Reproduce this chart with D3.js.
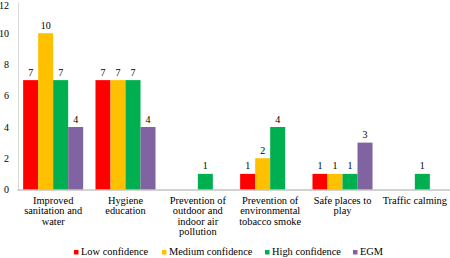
<!DOCTYPE html>
<html>
<head>
<meta charset="utf-8">
<script src="https://cdn.jsdelivr.net/npm/d3@7"></script>
</head>
<body style="margin:0;background:#fff">
<svg id="chart" width="450" height="258" font-family="Liberation Serif"></svg>
<script>
// categories (multi-line labels)
const CATEGORIES = [
  ['Improved', 'sanitation and', 'water'],
  ['Hygiene', 'education'],
  ['Prevention of', 'outdoor and', 'indoor air', 'pollution'],
  ['Prevention of', 'environmental', 'tobacco smoke'],
  ['Safe places to', 'play'],
  ['Traffic calming']
];
const SERIES = ['Low confidence', 'Medium confidence', 'High confidence', 'EGM'];
const COLORS = ['#FF0000', '#FFC000', '#00B050', '#8064A2'];
// null = no bar
const LOW = [7, 7, null, 1, 1, null];
const MEDIUM = [10, 7, null, 2, 1, null];
const HIGH = [7, 7, 1, 4, 1, 1];
const EGM = [4, 4, null, null, 3, null];
const Y_TICKS = [0, 2, 4, 6, 8, 10, 12];

const VALUES = [LOW, MEDIUM, HIGH, EGM];
const FONT = 'Liberation Serif';
const SVG1 = d3.select('#chart');

const LEFT = 17;
const RIGHT = 451;
const TOP = 2;
const BASE = 189.5;

const X_SCALE = d3.scaleBand()
  .domain(d3.range(CATEGORIES.length))
  .range([LEFT, RIGHT])
  .paddingInner(0.17)
  .paddingOuter(0.085);
const SUB_SCALE = d3.scaleBand()
  .domain(d3.range(SERIES.length))
  .range([0, X_SCALE.bandwidth()]);
const Y_SCALE = d3.scaleLinear().domain([0, 12]).range([BASE, TOP]);

// y axis
const Y_AXIS = d3.axisLeft(Y_SCALE).tickValues(Y_TICKS).tickSize(0).tickPadding(9);
const yg = SVG1.append('g').attr('transform', `translate(${LEFT + 1},0)`).call(Y_AXIS);
yg.attr('font-family', FONT).attr('font-size', 10);
yg.select('.domain').attr('stroke', '#D9D9D9');
yg.selectAll('text').attr('fill', '#000')
  .attr('dy', d => d === 12 ? '0.6em' : '0.32em');

// bars
const rows = [];
VALUES.forEach((arr, s) => arr.forEach((v, c) => { if (v !== null) rows.push({ s, c, v }); }));

SVG1.append('g').selectAll('rect')
  .data(rows)
  .join('rect')
  .attr('x', d => X_SCALE(d.c) + SUB_SCALE(d.s))
  .attr('y', d => Y_SCALE(d.v))
  .attr('width', SUB_SCALE.bandwidth())
  .attr('height', d => BASE - Y_SCALE(d.v))
  .attr('fill', d => COLORS[d.s]);

SVG1.append('g').selectAll('text')
  .data(rows)
  .join('text')
  .attr('x', d => X_SCALE(d.c) + SUB_SCALE(d.s) + SUB_SCALE.bandwidth() / 2)
  .attr('y', d => Y_SCALE(d.v) - 4.5)
  .attr('text-anchor', 'middle')
  .attr('font-family', FONT)
  .attr('font-size', 10)
  .text(d => d.v);

// x axis
const X_AXIS = d3.axisBottom(X_SCALE).tickSize(0).tickFormat('');
const xg = SVG1.append('g').attr('transform', `translate(0,${BASE})`).call(X_AXIS);
xg.select('.domain').attr('stroke', '#A6A6A6');

// category labels
const labels = SVG1.append('g').selectAll('text')
  .data(CATEGORIES)
  .join('text')
  .attr('text-anchor', 'middle')
  .attr('y', 204)
  .attr('font-family', FONT)
  .attr('font-size', 10.4);
labels.selectAll('tspan')
  .data((d, i) => d.map(t => ({ t, i })))
  .join('tspan')
  .attr('x', d => X_SCALE(d.i) + X_SCALE.bandwidth() / 2)
  .attr('dy', (d, j) => j === 0 ? 0 : 10.4)
  .text(d => d.t);

// legend
const LEGEND_X = [74, 162, 265, 353];
const lg = SVG1.append('g').selectAll('g')
  .data(SERIES)
  .join('g')
  .attr('transform', (d, i) => `translate(${LEGEND_X[i]},255)`);
lg.append('rect').attr('x', 0).attr('y', -5).attr('width', 4.5).attr('height', 4.5)
  .attr('fill', (d, i) => COLORS[i]);
lg.append('text').attr('x', 7).attr('y', 0)
  .attr('font-family', FONT)
  .attr('font-size', 10.4)
  .text(d => d);
</script>
</body>
</html>
